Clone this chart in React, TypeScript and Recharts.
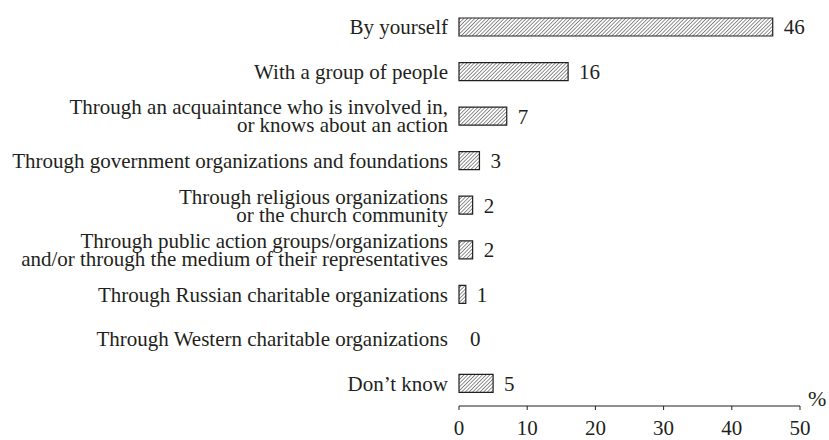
import React from "react";
import { BarChart, Bar, XAxis, YAxis, LabelList, Rectangle } from "recharts";

// categories, top to bottom (two-line labels split with \n)
const categories: string[] = [
    "By yourself",
    "With a group of people",
    "Through an acquaintance who is involved in,\nor knows about an action",
    "Through government organizations and foundations",
    "Through religious organizations\nor the church community",
    "Through public action groups/organizations\nand/or through the medium of their representatives",
    "Through Russian charitable organizations",
    "Through Western charitable organizations",
    "Don\u2019t know",
];

const shares: number[] = [46, 16, 7, 3, 2, 2, 1, 0, 5];

const xTicks: number[] = [0, 10, 20, 30, 40, 50];

// boundaries between the category rows, for the y axis tick marks
const rowEdges: number[] = [0, 1, 2, 3, 4, 5, 6, 7, 8, 9];

const data = categories.map((name, i) => ({ name, value: shares[i] }));

const FONT = "'Liberation Serif', 'Times New Roman', serif";
const INK = "#231f20";
const FS = 21;

// category label, split over lines and right aligned against the axis
const CategoryTick = (props: any) => {
    const { x, y, payload } = props;
    const lines: string[] = String(payload.value).split("\n");
    const lineHeight = 18;
    const first = -((lines.length - 1) * lineHeight) / 2;
    return (
        <text
            x={x}
            y={y}
            textAnchor="end"
            fill={INK}
            fontSize={FS}
            fontFamily={FONT}
        >
            {lines.map((line, i) => (
                <tspan key={i} x={x} dy={i === 0 ? first + 7 : lineHeight}>
                    {line}
                </tspan>
            ))}
        </text>
    );
};

// zero-width bars draw nothing, but still keep their value label
const HatchBar = (props: any) =>
    props.width < 0.5 ? <g /> : <Rectangle {...props} />;

export default function App() {
    return (
        <div style={{ position: "absolute", left: 0, top: 0, background: "#fff" }}>
            <BarChart
                width={829}
                height={440}
                data={data}
                layout="vertical"
                margin={{ top: 5, right: 29, bottom: 0, left: 0 }}
            >
                <defs>
                    <pattern
                        id="hatch"
                        width="2.6"
                        height="2.6"
                        patternUnits="userSpaceOnUse"
                        patternTransform="rotate(45)"
                    >
                        <rect width="2.6" height="2.6" fill="#fff" />
                        <line x1="0" y1="0" x2="0" y2="2.6" stroke={INK} strokeWidth="1" />
                    </pattern>
                </defs>

                {/* hidden numeric axis that only draws the ticks between rows */}
                <YAxis
                    yAxisId="edge"
                    type="number"
                    domain={[0, 9]}
                    ticks={rowEdges}
                    width={0}
                    tickSize={4}
                    tickFormatter={() => ""}
                    axisLine={{ stroke: INK }}
                    tickLine={{ stroke: INK }}
                />
                <YAxis
                    yAxisId="cat"
                    type="category"
                    dataKey="name"
                    width={459}
                    axisLine={false}
                    tickLine={false}
                    tickSize={6}
                    tickMargin={5}
                    interval={0}
                    tick={<CategoryTick />}
                />
                <XAxis
                    type="number"
                    domain={[0, 50]}
                    ticks={xTicks}
                    height={34}
                    tickSize={4}
                    tickMargin={10}
                    axisLine={{ stroke: INK }}
                    tickLine={{ stroke: INK }}
                    tick={{ fill: INK, fontSize: FS, fontFamily: FONT }}
                    label={{
                        value: "%",
                        position: "right",
                        offset: 8,
                        dy: -25,
                        fill: INK,
                        fontSize: 22,
                        fontFamily: FONT,
                    }}
                />
                <Bar
                    yAxisId="cat"
                    dataKey="value"
                    barSize={18}
                    minPointSize={0.01}
                    fill="url(#hatch)"
                    stroke={INK}
                    strokeWidth={1.2}
                    shape={<HatchBar />}
                    isAnimationActive={false}
                >
                    <LabelList
                        dataKey="value"
                        position="right"
                        offset={11}
                        formatter={(v: any) => String(v)}
                        fill={INK}
                        fontSize={FS}
                        fontFamily={FONT}
                    />
                </Bar>
            </BarChart>
        </div>
    );
}
